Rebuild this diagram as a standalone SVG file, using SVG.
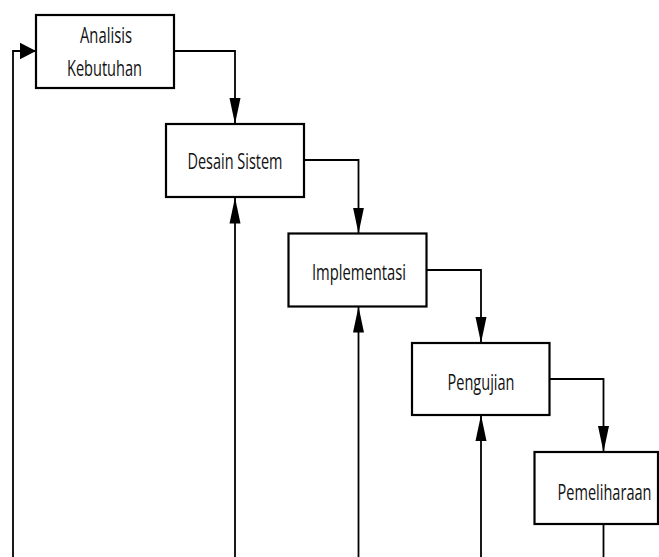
<svg xmlns="http://www.w3.org/2000/svg" width="659" height="557" viewBox="0 0 659 557">
<style>
.box{fill:#fff;stroke:#000;stroke-width:2.2}
.ln{fill:none;stroke:#000;stroke-width:1.8}
.t{font-family:"Open Sans","Noto Sans",sans-serif;font-size:22px;fill:#111;text-anchor:middle}
</style>
<defs>
<marker id="av" markerUnits="userSpaceOnUse" markerWidth="28" markerHeight="14" refX="26" refY="6" orient="auto" viewBox="0 0 28 12">
<path d="M0,0.5 L26,6 L0,11.5 Z" fill="#000"/>
</marker>
<marker id="ah" markerUnits="userSpaceOnUse" markerWidth="18" markerHeight="18" refX="16" refY="8.5" orient="auto" viewBox="0 0 18 17">
<path d="M0,0.2 L16,8.5 L0,16.8 Z" fill="#000"/>
</marker>
</defs>
<g id="connectors">
<path class="ln" d="M174,51 H235 V124" marker-end="url(#av)"/>
<path class="ln" d="M304,160 H358.5 V233.5" marker-end="url(#av)"/>
<path class="ln" d="M426.5,270 H481 V343" marker-end="url(#av)"/>
<path class="ln" d="M549.5,379 H603.5 V452" marker-end="url(#av)"/>
<path class="ln" d="M235,557 V197.5" marker-end="url(#av)"/>
<path class="ln" d="M358.5,557 V306.5" marker-end="url(#av)"/>
<path class="ln" d="M481,557 V415" marker-end="url(#av)"/>
<path class="ln" d="M13,557 V51 H36" marker-end="url(#ah)"/>
<path class="ln" d="M603.5,524 V557"/>
</g>
<g id="analisis">
<rect class="box" x="36" y="15" width="138" height="73"/>
<text class="t" x="106" y="43" textLength="52" lengthAdjust="spacingAndGlyphs">Analisis</text>
<text class="t" x="104.5" y="76" textLength="75" lengthAdjust="spacingAndGlyphs">Kebutuhan</text>
</g>
<g id="desain">
<rect class="box" x="166" y="124" width="138" height="73"/>
<text class="t" x="235" y="168.5" textLength="95" lengthAdjust="spacingAndGlyphs">Desain Sistem</text>
</g>
<g id="implementasi">
<rect class="box" x="288.5" y="233.5" width="138" height="73"/>
<text class="t" x="359" y="279.5" textLength="94" lengthAdjust="spacingAndGlyphs">Implementasi</text>
</g>
<g id="pengujian">
<rect class="box" x="412" y="343" width="137.5" height="72"/>
<text class="t" x="481" y="389.5" textLength="67" lengthAdjust="spacingAndGlyphs">Pengujian</text>
</g>
<g id="pemeliharaan">
<rect class="box" x="534.5" y="452" width="123.5" height="72"/>
<text class="t" x="604.5" y="500" textLength="94" lengthAdjust="spacingAndGlyphs">Pemeliharaan</text>
</g>
</svg>
